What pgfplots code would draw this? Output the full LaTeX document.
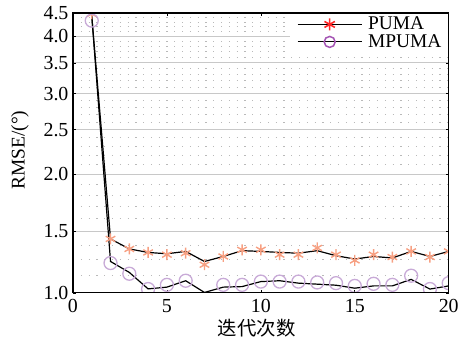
\documentclass[border=0pt]{standalone}
\usepackage{fontspec}
\setmainfont{Liberation Serif}
\newfontfamily\cjk{Noto Sans CJK SC}
\usepackage{pgfplots}
\pgfplotsset{compat=1.18}
\usetikzlibrary{plotmarks}

\definecolor{pumamark}{RGB}{247,160,130}
\definecolor{mpumamark}{RGB}{200,170,215}
\definecolor{pumaleg}{RGB}{255,40,40}
\definecolor{mpumaleg}{RGB}{165,85,180}
\definecolor{gridmaj}{RGB}{200,200,200}
\definecolor{gridmin}{RGB}{185,185,185}

% black curves
\pgfplotstableread{
it puma mpuma
1  4.44  4.44
2  1.443 1.288
3  1.372 1.219
4  1.348 1.122
5  1.339 1.132
6  1.355 1.169
7  1.288 1.102
8  1.321 1.132
9  1.360 1.135
10 1.355 1.164
11 1.348 1.169
12 1.343 1.155
13 1.360 1.149
14 1.326 1.143
15 1.304 1.126
16 1.321 1.139
17 1.311 1.139
18 1.355 1.177
19 1.321 1.121
20 1.355 1.139
}\curves

% marker positions
\pgfplotstableread{
it puma mpuma
1  4.48  4.33
2  1.443 1.278
3  1.372 1.211
4  1.348 1.121
5  1.333 1.145
6  1.343 1.169
7  1.267 1.089
8  1.321 1.145
9  1.366 1.145
10 1.366 1.164
11 1.333 1.164
12 1.333 1.164
13 1.379 1.159
14 1.333 1.155
15 1.295 1.139
16 1.333 1.151
17 1.317 1.145
18 1.355 1.199
19 1.317 1.121
20 1.355 1.155
}\marks

\begin{document}
\begin{tikzpicture}
\begin{axis}[
  name=ax,
  scale only axis,
  width=376bp, height=280bp,
  xmin=0, xmax=20,
  ymode=log, ymin=1.1, ymax=4.5,
  xtick={0,5,10,15,20},
  ytick={1.1,1.5,2,2.5,3,3.5,4,4.5},
  yticklabels={1.0,1.5,2.0,2.5,3.0,3.5,4.0,4.5},
  minor ytick={1.2,1.3,1.4,1.6,1.7,1.8,1.9,2.1,2.2,2.3,2.4,2.6,2.7,2.8,2.9,3.1,3.2,3.3,3.4,3.6,3.7,3.8,3.9,4.1,4.2,4.3,4.4},
  ymajorgrids, yminorgrids,
  major grid style={gridmaj, line width=0.9bp},
  minor grid style={gridmin, line width=0.8bp, dash pattern=on 1.2bp off 6.6bp},
  axis line style={line width=1.1bp},
  tick align=inside,
  major tick length=3bp, minor tick length=0bp,
  tick style={black, line width=0.6bp},
  /pgf/number format/assume math mode=true,
  ticklabel style={font=\fontsize{20}{20}\selectfont},
  xticklabel style={yshift=-3bp},
  yticklabel style={xshift=-1bp},
  xlabel={\cjk 迭代次数},
  xlabel style={font=\fontsize{19.5}{20}\selectfont, at={(rel axis cs:0.489,-0.125)}, anchor=center},
  ylabel={RMSE/(°)},
  ylabel style={font=\fontsize{19.5}{20}\selectfont, at={(rel axis cs:-0.141,0.51)}, anchor=center},
  clip marker paths=true,
  legend image code/.code={\draw[mark repeat=2,mark phase=2,#1] plot coordinates {(0bp,0bp) (32bp,0bp) (64bp,0bp)};},
  legend style={at={(1,1)}, anchor=north east, draw=none,
    fill=white, font=\fontsize{19.5}{20}\selectfont,
    inner xsep=7bp, inner ysep=4bp,
    nodes={inner sep=0bp, text height=12.5bp, text depth=2bp},
    row sep=3bp,
    /tikz/every odd column/.append style={column sep=6bp}},
  legend cell align=left,
]
\addplot[black, line width=1.2bp, forget plot] table[x=it, y=puma] {\curves};
\addplot[black, line width=1.2bp, forget plot] table[x=it, y=mpuma] {\curves};
\addplot[only marks, mark=asterisk, mark size=5.5bp, mark options={pumamark, line width=1.4bp}, forget plot] table[x=it, y=puma] {\marks};
\addplot[only marks, mark=o, mark size=6.5bp, mark options={mpumamark, line width=1.3bp}, forget plot] table[x=it, y=mpuma] {\marks};
\addlegendimage{black, line width=1bp, mark=asterisk, mark options={pumaleg, line width=1.6bp, mark size=6bp}}
\addlegendentry{PUMA}
\addlegendimage{black, line width=1bp, mark=o, mark options={mpumaleg, line width=1.5bp, mark size=5.5bp}}
\addlegendentry{MPUMA}
\end{axis}
\draw[black, line width=1.1bp] (ax.south west) rectangle (ax.north east);
\path ([xshift=-73bp,yshift=-51bp]ax.south west) rectangle ([xshift=13bp,yshift=13bp]ax.north east);
\end{tikzpicture}
\end{document}
